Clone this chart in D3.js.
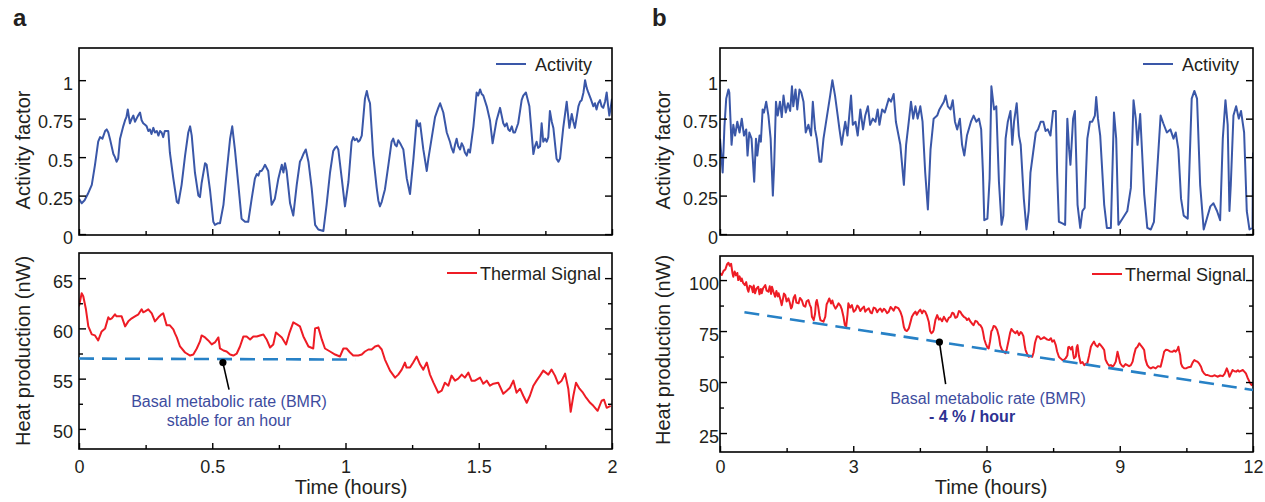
<!DOCTYPE html>
<html><head><meta charset="utf-8">
<script src="https://cdn.jsdelivr.net/npm/d3@7"></script>
<style>body{margin:0;background:#fff}svg{display:block}text{font-family:"Liberation Sans",Arial,Helvetica,sans-serif}</style>
</head><body>
<svg id="chart" width="1265" height="502"></svg>
<script>
// ---------- DATA ----------
// Panel a: time (hours), activity factor
const activityA = [[0,0.23],[0.010,0.20],[0.021,0.22],[0.033,0.26],[0.048,0.32],[0.060,0.45],[0.072,0.60],[0.079,0.63],[0.088,0.62],[0.098,0.67],[0.104,0.68],[0.110,0.66],[0.116,0.62],[0.129,0.52],[0.135,0.50],[0.141,0.47],[0.147,0.49],[0.154,0.62],[0.166,0.70],[0.173,0.74],[0.178,0.76],[0.183,0.81],[0.191,0.72],[0.198,0.75],[0.204,0.77],[0.210,0.73],[0.216,0.75],[0.222,0.77],[0.229,0.79],[0.235,0.74],[0.241,0.72],[0.248,0.71],[0.254,0.70],[0.260,0.67],[0.266,0.68],[0.272,0.65],[0.279,0.69],[0.285,0.66],[0.292,0.67],[0.298,0.64],[0.304,0.67],[0.310,0.66],[0.316,0.63],[0.322,0.67],[0.329,0.67],[0.335,0.67],[0.341,0.53],[0.354,0.36],[0.367,0.21],[0.373,0.20],[0.385,0.32],[0.398,0.51],[0.410,0.66],[0.417,0.70],[0.423,0.64],[0.435,0.40],[0.448,0.25],[0.454,0.24],[0.460,0.33],[0.473,0.46],[0.479,0.45],[0.492,0.28],[0.504,0.08],[0.510,0.06],[0.520,0.07],[0.529,0.07],[0.542,0.19],[0.554,0.40],[0.567,0.62],[0.575,0.70],[0.585,0.55],[0.598,0.32],[0.610,0.10],[0.623,0.08],[0.635,0.08],[0.648,0.23],[0.660,0.36],[0.667,0.39],[0.673,0.38],[0.679,0.41],[0.685,0.41],[0.692,0.43],[0.698,0.45],[0.710,0.41],[0.723,0.19],[0.735,0.23],[0.748,0.36],[0.755,0.41],[0.761,0.45],[0.767,0.40],[0.773,0.46],[0.779,0.41],[0.792,0.20],[0.804,0.12],[0.817,0.32],[0.829,0.47],[0.835,0.49],[0.842,0.52],[0.851,0.55],[0.861,0.47],[0.873,0.30],[0.886,0.06],[0.898,0.03],[0.917,0.02],[0.929,0.19],[0.942,0.40],[0.954,0.54],[0.961,0.56],[0.967,0.57],[0.973,0.55],[0.986,0.36],[0.998,0.18],[1.011,0.34],[1.023,0.60],[1.029,0.63],[1.035,0.61],[1.042,0.62],[1.048,0.60],[1.054,0.61],[1.061,0.64],[1.073,0.88],[1.080,0.93],[1.086,0.88],[1.092,0.85],[1.104,0.51],[1.117,0.30],[1.123,0.22],[1.129,0.18],[1.136,0.21],[1.142,0.25],[1.148,0.29],[1.161,0.45],[1.173,0.60],[1.179,0.62],[1.186,0.58],[1.192,0.57],[1.198,0.61],[1.205,0.59],[1.211,0.57],[1.217,0.55],[1.230,0.36],[1.242,0.26],[1.255,0.49],[1.267,0.74],[1.274,0.70],[1.280,0.72],[1.292,0.55],[1.305,0.41],[1.311,0.49],[1.323,0.62],[1.336,0.76],[1.348,0.82],[1.355,0.85],[1.367,0.79],[1.380,0.66],[1.392,0.60],[1.398,0.56],[1.405,0.53],[1.411,0.58],[1.417,0.62],[1.423,0.57],[1.430,0.55],[1.436,0.59],[1.442,0.57],[1.448,0.53],[1.455,0.51],[1.461,0.55],[1.467,0.53],[1.480,0.70],[1.492,0.92],[1.498,0.90],[1.505,0.94],[1.511,0.91],[1.517,0.90],[1.530,0.83],[1.542,0.74],[1.552,0.59],[1.567,0.74],[1.580,0.82],[1.592,0.72],[1.598,0.70],[1.605,0.72],[1.611,0.68],[1.617,0.67],[1.624,0.70],[1.630,0.66],[1.636,0.66],[1.648,0.72],[1.661,0.87],[1.667,0.90],[1.677,0.92],[1.690,0.83],[1.705,0.52],[1.711,0.57],[1.717,0.60],[1.723,0.56],[1.730,0.57],[1.736,0.72],[1.742,0.60],[1.749,0.62],[1.755,0.60],[1.761,0.63],[1.767,0.80],[1.774,0.73],[1.780,0.69],[1.792,0.49],[1.799,0.47],[1.805,0.49],[1.817,0.69],[1.830,0.86],[1.840,0.69],[1.849,0.78],[1.855,0.73],[1.861,0.69],[1.874,0.83],[1.880,0.86],[1.886,0.87],[1.893,0.92],[1.899,1.00],[1.905,0.95],[1.911,0.92],[1.920,0.88],[1.930,0.83],[1.936,0.85],[1.942,0.81],[1.948,0.85],[1.955,0.87],[1.961,0.83],[1.967,0.82],[1.974,0.86],[1.980,0.92],[1.985,0.84],[1.990,0.77],[1.995,0.82],[2.0,0.88]];

// Panel a: time (hours), heat production (nW)
const heatA = [[0,62.2],[0.010,63.5],[0.016,63.2],[0.026,61.9],[0.035,60.2],[0.048,59.4],[0.060,59.3],[0.072,58.8],[0.085,59.7],[0.098,60.0],[0.110,61.1],[0.116,60.9],[0.123,61.0],[0.135,61.4],[0.141,61.2],[0.148,61.2],[0.160,61.2],[0.173,60.2],[0.185,60.7],[0.198,61.0],[0.210,61.2],[0.223,61.4],[0.235,61.9],[0.241,61.6],[0.248,61.7],[0.260,61.9],[0.273,61.5],[0.285,60.7],[0.298,61.1],[0.310,61.4],[0.316,61.5],[0.329,60.3],[0.341,60.3],[0.354,59.9],[0.360,59.5],[0.367,59.1],[0.379,58.2],[0.398,57.6],[0.417,57.3],[0.429,57.4],[0.442,58.0],[0.454,58.7],[0.460,59.3],[0.473,59.1],[0.485,58.8],[0.498,58.4],[0.510,58.6],[0.523,59.1],[0.529,58.0],[0.542,57.8],[0.554,57.7],[0.567,57.4],[0.579,57.3],[0.592,57.5],[0.604,58.2],[0.617,59.2],[0.629,59.2],[0.642,58.9],[0.654,59.2],[0.667,59.2],[0.679,59.3],[0.692,59.4],[0.704,58.9],[0.717,58.1],[0.729,58.4],[0.739,59.6],[0.748,59.4],[0.761,59.1],[0.777,58.4],[0.789,59.5],[0.804,60.6],[0.817,60.4],[0.829,60.2],[0.842,59.2],[0.861,58.2],[0.879,58.0],[0.886,60.0],[0.898,60.1],[0.911,58.9],[0.923,58.0],[0.942,57.7],[0.961,57.4],[0.979,57.2],[0.992,58.0],[1.004,58.0],[1.017,57.6],[1.029,57.3],[1.048,57.3],[1.061,57.4],[1.073,57.7],[1.086,57.9],[1.098,57.9],[1.111,58.2],[1.123,58.3],[1.136,57.9],[1.148,56.9],[1.167,55.8],[1.186,55.1],[1.198,55.4],[1.211,55.9],[1.223,56.6],[1.229,56.1],[1.242,56.1],[1.254,56.6],[1.267,57.2],[1.280,56.4],[1.292,55.9],[1.305,56.6],[1.317,55.4],[1.330,54.6],[1.348,53.6],[1.361,53.8],[1.373,54.6],[1.386,54.3],[1.398,55.3],[1.411,54.8],[1.423,55.0],[1.436,55.4],[1.448,55.1],[1.461,55.6],[1.473,54.8],[1.486,54.8],[1.505,55.1],[1.517,54.5],[1.530,54.8],[1.542,54.3],[1.555,54.5],[1.573,54.6],[1.592,53.5],[1.605,53.8],[1.617,54.1],[1.630,54.8],[1.642,53.6],[1.655,54.0],[1.667,53.3],[1.680,52.6],[1.692,53.3],[1.705,54.3],[1.717,54.8],[1.730,55.3],[1.742,55.8],[1.761,55.4],[1.773,55.9],[1.786,55.3],[1.798,54.5],[1.811,54.8],[1.824,55.5],[1.836,54.0],[1.845,51.7],[1.855,53.3],[1.865,54.6],[1.878,54.0],[1.891,53.6],[1.903,53.1],[1.918,52.6],[1.930,52.3],[1.946,51.8],[1.961,52.8],[1.970,52.9],[1.980,52.1],[1.995,52.3]];

// Panel b: time (hours), activity factor
const activityB = [[0,0.62],[0.02,0.55],[0.06,0.40],[0.10,0.70],[0.14,0.88],[0.19,0.94],[0.21,0.92],[0.26,0.58],[0.30,0.71],[0.34,0.64],[0.39,0.73],[0.44,0.66],[0.49,0.75],[0.54,0.64],[0.59,0.68],[0.62,0.51],[0.66,0.66],[0.71,0.62],[0.77,0.34],[0.81,0.62],[0.84,0.51],[0.89,0.64],[0.92,0.60],[0.96,0.81],[0.99,0.79],[1.04,0.86],[1.09,0.77],[1.14,0.62],[1.19,0.25],[1.22,0.45],[1.26,0.86],[1.30,0.77],[1.35,0.86],[1.39,0.76],[1.43,0.90],[1.48,0.79],[1.53,0.85],[1.58,0.80],[1.62,0.96],[1.65,0.83],[1.70,0.94],[1.74,0.81],[1.79,0.94],[1.83,0.92],[1.88,0.86],[1.93,0.66],[1.99,0.71],[2.05,0.64],[2.09,0.86],[2.14,0.68],[2.18,0.62],[2.24,0.47],[2.28,0.47],[2.33,0.62],[2.41,0.77],[2.48,0.90],[2.53,1.00],[2.59,0.90],[2.65,0.77],[2.69,0.68],[2.74,0.58],[2.78,0.66],[2.82,0.73],[2.87,0.64],[2.95,0.90],[2.99,0.71],[3.05,0.73],[3.10,0.64],[3.16,0.81],[3.22,0.68],[3.27,0.77],[3.33,0.83],[3.38,0.71],[3.44,0.75],[3.50,0.73],[3.55,0.81],[3.59,0.71],[3.65,0.81],[3.71,0.79],[3.80,0.88],[3.85,0.86],[3.91,0.91],[3.96,0.73],[4.06,0.58],[4.14,0.32],[4.19,0.58],[4.25,0.73],[4.30,0.86],[4.35,0.75],[4.40,0.83],[4.45,0.75],[4.51,0.83],[4.56,0.73],[4.62,0.40],[4.68,0.16],[4.74,0.55],[4.81,0.75],[4.89,0.77],[4.94,0.81],[5.04,0.86],[5.08,0.90],[5.13,0.83],[5.19,0.81],[5.24,0.87],[5.29,0.73],[5.34,0.68],[5.40,0.75],[5.45,0.58],[5.50,0.51],[5.56,0.64],[5.65,0.73],[5.71,0.77],[5.77,0.73],[5.83,0.75],[5.88,0.68],[5.92,0.40],[5.95,0.09],[6.02,0.10],[6.07,0.36],[6.11,0.96],[6.17,0.81],[6.22,0.83],[6.28,0.34],[6.34,0.06],[6.38,0.12],[6.43,0.62],[6.48,0.73],[6.54,0.80],[6.58,0.58],[6.62,0.73],[6.68,0.85],[6.73,0.64],[6.77,0.58],[6.84,0.23],[6.90,0.03],[6.95,0.15],[6.99,0.40],[7.05,0.53],[7.11,0.66],[7.16,0.68],[7.22,0.73],[7.28,0.73],[7.33,0.67],[7.38,0.68],[7.44,0.64],[7.50,0.80],[7.56,0.80],[7.59,0.40],[7.63,0.08],[7.71,0.07],[7.77,0.06],[7.82,0.75],[7.86,0.55],[7.89,0.45],[7.95,0.75],[7.99,0.80],[8.05,0.19],[8.11,0.04],[8.16,0.15],[8.21,0.17],[8.27,0.62],[8.33,0.73],[8.38,0.73],[8.44,0.77],[8.47,0.89],[8.51,0.75],[8.56,0.64],[8.65,0.19],[8.71,0.04],[8.80,0.04],[8.87,0.79],[8.92,0.62],[8.97,0.06],[9.06,0.10],[9.17,0.15],[9.25,0.30],[9.31,0.87],[9.36,0.75],[9.40,0.58],[9.46,0.78],[9.55,0.26],[9.62,0.04],[9.70,0.03],[9.77,0.08],[9.92,0.77],[9.98,0.72],[10.06,0.66],[10.14,0.68],[10.21,0.62],[10.26,0.66],[10.32,0.55],[10.38,0.23],[10.44,0.12],[10.53,0.10],[10.62,0.88],[10.68,0.93],[10.74,0.88],[10.81,0.32],[10.89,0.03],[10.96,0.10],[11.04,0.18],[11.11,0.20],[11.19,0.15],[11.26,0.09],[11.32,0.62],[11.38,0.87],[11.43,0.71],[11.47,0.15],[11.50,0.32],[11.56,0.77],[11.62,0.83],[11.68,0.75],[11.73,0.80],[11.80,0.66],[11.86,0.15],[11.92,0.03],[11.99,0.04],[12.0,0.53]];

// Panel b: time (hours), heat production (nW)
const heatB = [[0,103.3],[0.04,102.5],[0.08,104.5],[0.12,105.2],[0.16,107.8],[0.19,108.5],[0.22,107.0],[0.25,108.0],[0.28,103.5],[0.30,101.6],[0.33,104.2],[0.36,102.3],[0.39,103.5],[0.41,100.0],[0.44,101.8],[0.47,99.5],[0.49,100.8],[0.52,98.6],[0.56,97.5],[0.59,99.0],[0.62,95.5],[0.64,94.3],[0.67,97.2],[0.71,96.7],[0.74,94.0],[0.76,97.3],[0.79,93.5],[0.82,95.8],[0.86,96.7],[0.89,93.0],[0.92,95.6],[0.94,93.5],[0.97,96.0],[1.02,97.5],[1.05,94.8],[1.09,94.3],[1.12,97.0],[1.15,93.2],[1.17,96.7],[1.20,94.5],[1.24,91.8],[1.27,94.6],[1.30,92.0],[1.32,93.5],[1.36,90.5],[1.39,87.7],[1.42,91.0],[1.44,93.4],[1.47,92.6],[1.50,89.5],[1.54,91.0],[1.57,89.0],[1.60,86.1],[1.62,86.8],[1.66,91.5],[1.69,92.6],[1.72,89.0],[1.77,88.6],[1.80,91.2],[1.84,90.2],[1.88,87.5],[1.92,86.9],[1.95,89.6],[1.99,90.2],[2.02,88.0],[2.05,86.5],[2.07,82.0],[2.11,80.4],[2.14,83.5],[2.16,89.0],[2.18,90.2],[2.21,87.0],[2.24,82.5],[2.26,80.4],[2.33,79.6],[2.37,82.0],[2.40,88.0],[2.43,89.4],[2.46,91.0],[2.50,88.5],[2.53,90.0],[2.56,87.7],[2.60,86.0],[2.63,86.9],[2.67,88.6],[2.71,87.5],[2.74,85.8],[2.78,82.0],[2.81,78.0],[2.84,77.1],[2.87,83.0],[2.89,88.6],[2.93,86.5],[2.97,87.7],[3.01,84.5],[3.05,85.3],[3.09,87.5],[3.12,86.9],[3.16,84.8],[3.20,86.1],[3.24,87.0],[3.27,84.5],[3.31,85.5],[3.35,86.1],[3.39,84.0],[3.42,83.7],[3.46,86.5],[3.50,86.1],[3.54,84.2],[3.57,85.3],[3.61,86.0],[3.65,84.5],[3.69,85.9],[3.72,85.3],[3.76,83.8],[3.80,84.5],[3.84,86.8],[3.87,86.1],[3.91,85.0],[3.95,86.9],[3.99,86.5],[4.02,86.1],[4.06,84.5],[4.10,82.0],[4.14,77.0],[4.17,75.5],[4.21,75.0],[4.25,76.3],[4.29,79.5],[4.32,82.0],[4.36,83.5],[4.40,84.5],[4.43,83.0],[4.47,84.5],[4.51,85.5],[4.55,83.7],[4.58,85.0],[4.62,84.5],[4.66,82.5],[4.70,79.6],[4.73,75.0],[4.76,73.9],[4.79,74.5],[4.81,75.5],[4.85,80.5],[4.89,82.8],[4.93,80.6],[4.96,81.2],[5.00,79.8],[5.04,82.0],[5.08,80.5],[5.11,79.6],[5.15,81.5],[5.19,82.0],[5.23,84.0],[5.26,83.7],[5.30,81.5],[5.34,82.0],[5.38,84.8],[5.41,84.5],[5.45,83.0],[5.49,82.0],[5.53,81.5],[5.56,80.4],[5.60,81.2],[5.64,79.6],[5.68,78.5],[5.71,77.9],[5.75,80.0],[5.79,79.6],[5.83,78.2],[5.86,77.9],[5.90,76.5],[5.92,74.7],[5.95,71.0],[5.98,69.0],[6.02,67.0],[6.05,66.5],[6.08,70.0],[6.11,75.0],[6.13,75.5],[6.16,77.5],[6.20,77.1],[6.24,75.5],[6.28,72.2],[6.31,68.0],[6.35,65.7],[6.39,64.8],[6.43,64.1],[6.46,66.5],[6.50,70.6],[6.53,74.0],[6.56,76.0],[6.58,75.5],[6.62,74.5],[6.65,73.9],[6.69,75.0],[6.73,73.0],[6.77,74.5],[6.80,73.9],[6.83,72.5],[6.86,68.0],[6.88,65.7],[6.92,63.5],[6.95,62.4],[6.99,62.8],[7.03,62.4],[7.06,64.5],[7.09,69.0],[7.11,70.6],[7.14,72.5],[7.18,72.2],[7.22,71.0],[7.26,71.4],[7.30,72.0],[7.33,71.4],[7.37,70.8],[7.41,70.6],[7.45,71.5],[7.48,69.8],[7.52,70.5],[7.56,68.1],[7.59,65.0],[7.63,62.4],[7.67,61.5],[7.71,60.8],[7.75,61.0],[7.78,61.6],[7.82,63.0],[7.84,67.0],[7.86,67.3],[7.90,66.0],[7.93,67.3],[7.95,64.0],[7.97,61.6],[8.01,62.5],[8.03,67.0],[8.05,68.1],[8.08,63.0],[8.12,59.2],[8.16,59.8],[8.20,58.3],[8.24,59.0],[8.27,59.2],[8.31,63.0],[8.35,67.3],[8.38,68.5],[8.42,69.8],[8.46,68.0],[8.50,67.3],[8.54,68.8],[8.57,68.1],[8.61,67.0],[8.65,65.7],[8.68,61.0],[8.72,59.2],[8.76,58.0],[8.80,58.3],[8.84,57.6],[8.87,58.3],[8.91,60.0],[8.95,64.9],[8.98,62.0],[9.01,59.2],[9.05,58.0],[9.08,57.5],[9.13,58.8],[9.17,58.3],[9.21,57.8],[9.25,58.3],[9.29,60.0],[9.32,63.2],[9.36,66.5],[9.40,67.3],[9.44,69.0],[9.47,68.1],[9.51,67.0],[9.55,65.7],[9.58,61.0],[9.62,58.3],[9.66,57.2],[9.70,56.7],[9.75,57.3],[9.81,56.7],[9.86,57.8],[9.92,57.5],[9.96,61.0],[10.00,64.9],[10.04,65.8],[10.08,65.7],[10.13,65.0],[10.19,64.9],[10.23,65.5],[10.26,64.9],[10.30,66.0],[10.32,67.3],[10.34,65.0],[10.36,63.2],[10.38,59.0],[10.41,57.5],[10.45,56.8],[10.49,56.7],[10.55,57.3],[10.60,57.5],[10.64,59.5],[10.68,60.8],[10.72,60.2],[10.75,60.0],[10.79,59.0],[10.83,57.5],[10.86,55.5],[10.90,54.2],[10.94,53.5],[10.98,53.4],[11.03,53.0],[11.09,52.9],[11.14,53.3],[11.20,52.6],[11.26,53.2],[11.32,52.9],[11.36,54.0],[11.41,56.7],[11.44,55.0],[11.47,52.6],[11.50,54.0],[11.54,55.9],[11.58,55.3],[11.62,55.1],[11.66,55.8],[11.69,55.1],[11.73,55.5],[11.77,55.9],[11.81,55.0],[11.84,54.2],[11.88,52.0],[11.92,50.2],[11.95,49.0],[11.97,48.5],[12.0,49.3]];

// Basal metabolic rate reference lines [time, nW]
const bmrA = [[0,57.0],[1.036,56.9]];
const bmrB = [[0.55,84.2],[12,46.1]];
// annotation pointers [dot, line end]
const pointerA = [[0.54,56.6],[0.563,53.9]];
const pointerB = [[4.94,69.6],[5.08,49.0]];

// Tick values
const timeTicksA = [0,0.5,1,1.5,2], timeMinorA = [0.25,0.75,1.25,1.75];
const timeTicksB = [0,3,6,9,12], timeMinorB = [1.5,4.5,7.5,10.5];
const actTicks = [0,0.25,0.5,0.75,1];
const heatTicksA = [50,55,60,65], heatMinorA = [52.5,57.5,62.5];
const heatTicksB = [25,50,75,100], heatMinorB = [37.5,62.5,87.5];

// Labels
const panelLabels = ["a","b"];
const xTitle = "Time (hours)";
const yTitleTop = "Activity factor";
const yTitleBottom = "Heat production (nW)";
const legendTop = "Activity", legendBottom = "Thermal Signal";
const annotA = ["Basal metabolic rate (BMR)","stable for an hour"];
const annotB = ["Basal metabolic rate (BMR)","- 4 % / hour"];

// ---------- DRAWING ----------
const svg = d3.select("#chart");
const BLUE = "#3a57a8", RED = "#ee1c25", DASH = "#2781c6", TXT = "#231f20", ANN = "#3d4c9e", ANN2 = "#2e3192";
const fmt = d => String(d);
let clipId = 0;

function drawPlot(o) {
  const g = svg.append("g");
  const [x0, x1] = o.x.range(), [yb, yt] = o.y.range();
  const id = "clip" + (clipId++);
  svg.append("clipPath").attr("id", id).append("rect")
    .attr("x", x0).attr("y", yt).attr("width", x1 - x0).attr("height", yb - yt);

  // series
  g.append("path").datum(o.data).attr("clip-path", `url(#${id})`)
    .attr("fill", "none").attr("stroke", o.color).attr("stroke-width", 2).attr("stroke-linejoin", "round")
    .attr("d", d3.line().x(d => o.x(d[0])).y(d => o.y(d[1])));

  // axes (ticks inward)
  const ax = (gen, tr) => g.append("g").attr("transform", tr).call(gen)
    .call(s => s.select(".domain").remove())
    .call(s => s.selectAll("line").attr("stroke", "#000").attr("stroke-width", 1.4))
    .call(s => s.selectAll("text").attr("fill", TXT).style("font-size", "18px"));

  const labelPad = 467 - yb - 6.5;
  ax(d3.axisBottom(o.x).tickValues(o.xt).tickSize(-6).tickPadding(o.showX ? labelPad : 0)
     .tickFormat(o.showX ? fmt : () => ""), `translate(0,${yb})`);
  ax(d3.axisBottom(o.x).tickValues(o.xm).tickSize(-4).tickFormat(() => ""), `translate(0,${yb})`);
  const yl = ax(d3.axisLeft(o.y).tickValues(o.yt).tickSize(-7).tickPadding(o.ypad).tickFormat(fmt), `translate(${x0},0)`);
  yl.selectAll("text").attr("dy", "0.5em");
  ax(d3.axisRight(o.y).tickValues(o.yt).tickSize(-7).tickFormat(() => ""), `translate(${x1},0)`);
  if (o.ym) {
    ax(d3.axisLeft(o.y).tickValues(o.ym).tickSize(-4).tickFormat(() => ""), `translate(${x0},0)`);
    ax(d3.axisRight(o.y).tickValues(o.ym).tickSize(-4).tickFormat(() => ""), `translate(${x1},0)`);
  }
  // frame
  g.append("rect").attr("x", x0).attr("y", yt).attr("width", x1 - x0).attr("height", yb - yt)
    .attr("fill", "none").attr("stroke", "#000").attr("stroke-width", 1.6);

  // legend
  g.append("line").attr("x1", o.leg[0]).attr("x2", o.leg[0] + 30).attr("y1", o.leg[1]).attr("y2", o.leg[1])
    .attr("stroke", o.color).attr("stroke-width", 2);
  g.append("text").attr("x", o.leg[2]).attr("y", o.leg[1] + 6.5).attr("fill", TXT)
    .style("font-size", "18px").text(o.legText);

  // y title
  g.append("text").attr("transform", `translate(${o.yTitle[0]},${o.yTitle[1]}) rotate(-90)`)
    .attr("text-anchor", "middle").attr("fill", TXT).style("font-size", "20px").text(o.yTitleText);
  return g;
}

const xA = d3.scaleLinear().domain([0, 2]).range([79, 612]);
const xB = d3.scaleLinear().domain([0, 12]).range([720, 1253]);
const yActA = d3.scaleLinear().domain([-0.006, 1.209]).range([235, 48]);
const yActB = d3.scaleLinear().domain([-0.006, 1.209]).range([235, 48]);
const yHeatA = d3.scaleLinear().domain([48.0, 67.5]).range([449, 253]);
const yHeatB = d3.scaleLinear().domain([15.7, 111.8]).range([452, 256]);

drawPlot({x: xA, y: yActA, data: activityA, color: BLUE, xt: timeTicksA, xm: timeMinorA, yt: actTicks,
  ypad: 6, showX: false, leg: [496, 64, 535], legText: legendTop, yTitle: [30, 150], yTitleText: yTitleTop});
const gHA = drawPlot({x: xA, y: yHeatA, data: heatA, color: RED, xt: timeTicksA, xm: timeMinorA, yt: heatTicksA, ym: heatMinorA,
  ypad: 6, showX: true, leg: [447, 273, 480], legText: legendBottom, yTitle: [30, 351], yTitleText: yTitleBottom});
drawPlot({x: xB, y: yActB, data: activityB, color: BLUE, xt: timeTicksB, xm: timeMinorB, yt: actTicks,
  ypad: 2, showX: false, leg: [1143, 64, 1182], legText: legendTop, yTitle: [670, 150], yTitleText: yTitleTop});
const gHB = drawPlot({x: xB, y: yHeatB, data: heatB, color: RED, xt: timeTicksB, xm: timeMinorB, yt: heatTicksB, ym: heatMinorB,
  ypad: 1, showX: true, leg: [1092, 274, 1125], legText: legendBottom, yTitle: [670, 350], yTitleText: yTitleBottom});

// BMR dashed lines
function bmr(g, x, y, pts) {
  g.append("path").datum(pts).attr("fill", "none").attr("stroke", DASH).attr("stroke-width", 2.6)
    .attr("stroke-dasharray", "15,8").attr("d", d3.line().x(d => x(d[0])).y(d => y(d[1])));
}
bmr(gHA, xA, yHeatA, bmrA);
bmr(gHB, xB, yHeatB, bmrB);

// pointers
function pointer(g, x, y, p) {
  g.append("line").attr("x1", x(p[0][0])).attr("y1", y(p[0][1])).attr("x2", x(p[1][0])).attr("y2", y(p[1][1]))
    .attr("stroke", "#000").attr("stroke-width", 1.6);
  g.append("circle").attr("cx", x(p[0][0])).attr("cy", y(p[0][1])).attr("r", 3.6).attr("fill", "#000");
}
pointer(gHA, xA, yHeatA, pointerA);
pointer(gHB, xB, yHeatB, pointerB);

// annotation texts
svg.append("text").attr("x", 229).attr("y", 407).attr("text-anchor", "middle").attr("fill", ANN)
  .style("font-size", "16px").text(annotA[0]);
svg.append("text").attr("x", 229).attr("y", 426).attr("text-anchor", "middle").attr("fill", ANN)
  .style("font-size", "16px").text(annotA[1]);
svg.append("text").attr("x", 988).attr("y", 404).attr("text-anchor", "middle").attr("fill", ANN)
  .style("font-size", "16px").text(annotB[0]);
svg.append("text").attr("x", 972).attr("y", 422).attr("text-anchor", "middle").attr("fill", ANN2)
  .style("font-size", "16px").style("font-weight", "bold").text(annotB[1]);

// x titles
[[xA, 351], [xB, 991]].forEach(([s, cx]) => {
  svg.append("text").attr("x", cx).attr("y", 494).attr("text-anchor", "middle").attr("fill", TXT)
    .style("font-size", "20px").text(xTitle);
});

// panel letters
[[13, panelLabels[0]], [652, panelLabels[1]]].forEach(([px, t]) => {
  svg.append("text").attr("x", px).attr("y", 26).attr("fill", "#231f20")
    .style("font-size", "24px").style("font-weight", "bold").text(t);
});
</script>
</body></html>
